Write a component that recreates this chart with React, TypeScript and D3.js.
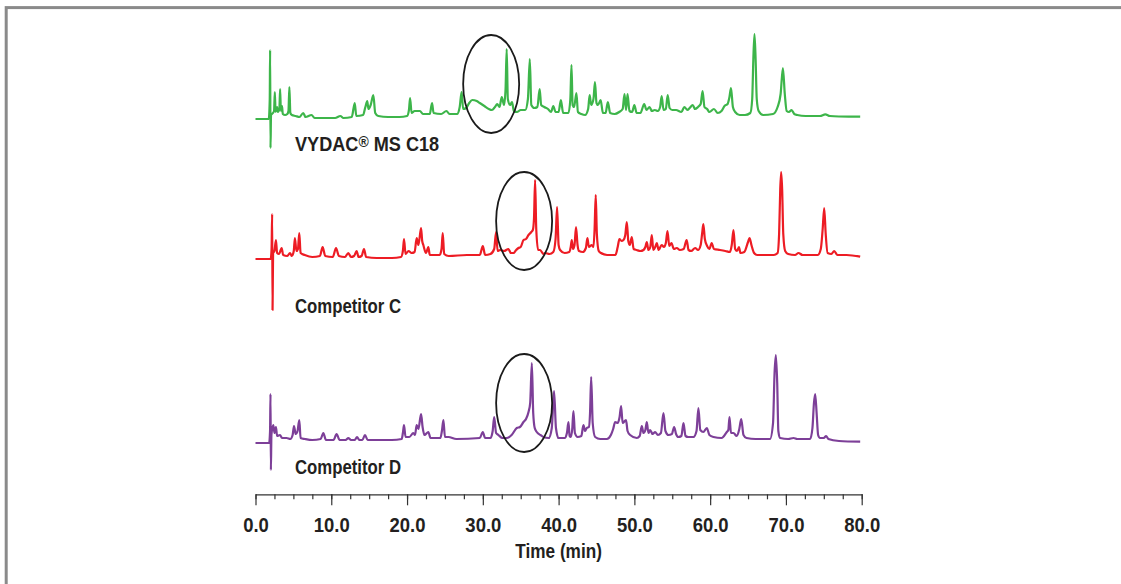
import React, { useEffect, useRef } from "react";
import * as d3 from "d3";

// Time axis (min)
const timeDomain: [number, number] = [0, 80];
const majorTicks = [0, 10, 20, 30, 40, 50, 60, 70, 80];
const minorTicks = d3.range(0, 80.01, 2.5);
const xAxisTitle = "Time (min)";

// Series names
const seriesNames = ["VYDAC", "Competitor C", "Competitor D"];
const seriesSuffix = [" MS C18", "", ""];
const seriesColors = ["#3db54a", "#ed1c24", "#7d3f98"];

// Chromatogram traces: [time (min), detector signal (arbitrary units)]
const vydacTrace: [number, number][] = [
  [0, 0], [1.75, 0], [1.88, 20], [1.93, 69], [1.98, -29], [2.05, 4], [2.3, 6], [2.45, 8], [2.55, 27], [2.65, 7],
  [2.85, 12], [2.95, 7], [3.15, 10], [3.25, 30], [3.35, 8], [3.5, 13], [3.6, 5], [3.9, 4], [4.2, 5], [4.35, 8],
  [4.47, 32], [4.6, 6], [4.8, 4], [5.3, 3], [5.8, 2], [6.3, 6], [6.6, 2], [7.4, 4], [7.8, 1], [9, 1], [10.5, 1],
  [11.2, 3], [11.6, 1], [12.7, 2], [13.1, 16], [13.3, 3], [14.2, 4], [14.5, 12], [14.75, 18], [14.9, 10], [15.2, 14],
  [15.55, 24], [15.8, 6], [16.2, 3], [17.5, 2], [19, 2], [20.0, 3], [20.25, 9], [20.4, 21], [20.6, 6], [21.0, 8],
  [21.7, 8], [22.1, 5], [23.0, 5], [23.3, 16], [23.5, 6], [24.5, 5], [25.2, 8], [25.6, 5], [26.6, 5], [26.95, 12],
  [27.2, 27], [27.4, 10], [27.8, 11], [28.2, 16], [28.6, 19], [29.2, 18], [29.6, 16], [30.2, 13], [30.8, 10],
  [31.2, 9], [31.6, 12], [31.9, 15], [32.2, 12], [32.5, 22], [32.8, 14], [33.0, 30], [33.15, 70], [33.3, 20],
  [33.6, 14], [33.85, 17], [34.1, 8], [34.5, 7], [35.0, 9], [35.6, 9], [35.95, 20], [36.2, 60], [36.4, 14],
  [36.8, 11], [37.2, 12], [37.5, 30], [37.7, 14], [38.1, 12], [38.6, 10], [39.0, 7], [39.3, 13], [39.6, 7],
  [40.0, 7], [40.3, 19], [40.6, 6], [41.3, 6], [41.55, 20], [41.7, 54], [41.85, 14], [42.05, 12], [42.35, 26],
  [42.55, 7], [43.0, 5], [43.5, 4], [43.9, 10], [44.1, 24], [44.3, 14], [44.6, 20], [44.8, 37], [45.0, 16],
  [45.2, 14], [45.55, 19], [45.85, 6], [46.2, 6], [46.5, 17], [46.8, 6], [47.4, 5], [48.0, 7], [48.45, 10],
  [48.7, 25], [48.9, 9], [49.1, 25], [49.35, 8], [49.7, 7], [50.0, 14], [50.3, 6], [50.8, 6], [51.3, 15],
  [51.6, 9], [52.0, 12], [52.3, 8], [52.7, 9], [53.1, 8], [53.4, 12], [53.6, 23], [53.85, 9], [54.15, 10],
  [54.4, 24], [54.65, 11], [55.0, 9], [55.5, 9], [56.2, 7], [56.6, 12], [57.0, 9], [57.3, 11], [57.7, 14],
  [58.0, 10], [58.4, 12], [58.75, 15], [59.0, 28], [59.25, 12], [59.6, 10], [59.9, 7], [60.5, 10], [61.0, 6],
  [61.5, 8], [61.9, 13], [62.3, 15], [62.55, 22], [62.75, 31], [63.0, 12], [63.3, 7], [63.9, 4], [64.6, 4],
  [65.3, 6], [65.55, 20], [65.7, 60], [65.85, 85], [66.0, 60], [66.15, 20], [66.4, 8], [67.0, 4], [68.3, 5],
  [68.9, 12], [69.3, 25], [69.6, 51], [69.85, 25], [70.1, 8], [70.4, 7], [70.75, 9], [71.1, 5], [71.5, 4],
  [72.6, 3], [74.5, 3], [75.2, 4.7], [75.8, 3], [77, 2.5], [79.8, 2.3],
];

const competitorCTrace: [number, number][] = [
  [0, 0], [2.0, 0], [2.12, 10], [2.2, 45], [2.25, -51], [2.32, 6], [2.5, 8], [2.7, 19], [2.85, 6], [3.1, 5],
  [3.45, 11], [3.65, 4], [4.2, 3], [4.55, 6], [4.8, 3], [5.05, 8], [5.2, 21], [5.4, 8], [5.6, 10], [5.78, 26],
  [5.95, 6], [6.5, 4], [7.5, 2], [8.5, 3], [8.86, 12], [9.2, 3], [10.2, 2], [10.63, 11], [11.0, 3], [11.8, 2],
  [12.25, 6], [12.6, 2], [13.0, 3], [13.35, 8], [13.6, 2], [14.0, 3], [14.32, 10], [14.6, 2], [16, 1], [18, 1],
  [19.2, 2], [19.45, 8], [19.6, 20], [19.8, 5], [20.2, 8], [20.6, 6], [21.0, 7], [21.27, 21], [21.5, 14],
  [21.85, 31], [22.0, 18], [22.15, 14], [22.5, 6], [22.81, 12], [23.0, 4], [24.3, 4], [24.55, 10], [24.71, 26],
  [24.9, 5], [25.5, 3], [27.9, 4], [29.6, 4], [30.0, 13], [30.3, 4], [31.0, 5], [31.5, 10], [31.75, 27],
  [31.95, 8], [32.28, 9], [32.8, 8], [33.38, 10], [33.7, 6], [34.04, 6], [34.4, 9], [34.7, 11], [35.0, 12],
  [35.37, 19], [35.7, 20], [36.03, 24], [36.4, 27], [36.6, 29], [36.75, 40], [36.9, 79], [37.05, 30], [37.3, 9],
  [37.56, 9], [38.0, 5], [38.22, 6], [38.8, 5], [39.3, 7], [39.6, 20], [39.8, 52], [40.0, 14], [40.2, 9],
  [40.8, 6], [41.4, 7], [41.6, 12], [41.74, 19], [41.9, 10], [42.1, 14], [42.3, 32], [42.5, 14], [42.7, 8],
  [43.2, 7], [43.6, 11], [43.8, 21], [44.0, 12], [44.37, 14], [44.6, 12], [44.75, 30], [44.9, 64], [45.05, 25],
  [45.3, 8], [45.6, 6], [46.4, 4], [47.5, 4], [47.8, 12], [48.03, 20], [48.3, 18], [48.56, 19], [48.8, 24],
  [49.0, 37], [49.2, 18], [49.4, 14], [49.66, 22], [49.9, 10], [50.3, 9], [50.8, 8], [51.2, 9], [51.45, 12],
  [51.64, 17], [51.85, 9], [52.1, 12], [52.3, 24], [52.5, 9], [52.75, 12], [52.96, 16], [53.2, 9], [53.6, 14],
  [53.9, 12], [54.15, 16], [54.37, 28], [54.6, 13], [54.9, 16], [55.2, 10], [55.6, 11], [56.0, 9], [56.5, 10],
  [56.9, 19], [57.15, 9], [57.5, 8], [58.02, 11], [58.4, 9], [58.75, 14], [58.95, 26], [59.1, 35], [59.3, 20],
  [59.6, 13], [59.9, 10], [60.2, 16], [60.5, 10], [61.3, 9], [62.0, 8], [62.6, 7], [62.85, 14], [63.08, 29],
  [63.3, 10], [63.55, 8], [63.8, 12], [64.0, 6], [64.5, 7], [65.0, 17], [65.2, 21], [65.45, 14], [65.8, 6],
  [66.2, 4], [68.4, 4], [68.9, 6], [69.1, 25], [69.25, 70], [69.37, 87], [69.5, 70], [69.65, 25], [69.9, 8],
  [70.3, 5], [71.2, 4], [71.66, 6], [72.2, 4], [74.2, 4], [74.6, 10], [74.85, 30], [75.05, 51], [75.25, 25],
  [75.5, 6], [76.0, 5], [76.37, 8], [76.8, 4], [78.0, 4], [79.8, 2.3],
];

const competitorDTrace: [number, number][] = [
  [0, 0], [1.8, 0], [1.92, 12], [1.98, 49], [2.03, -27], [2.1, 8], [2.35, 18], [2.5, 10], [2.7, 16], [2.85, 7],
  [3.23, 8], [3.5, 5], [4.1, 5], [4.6, 4], [4.9, 8], [5.08, 17], [5.3, 9], [5.55, 12], [5.78, 23], [5.95, 5],
  [6.53, 4], [7.5, 3], [8.6, 4], [8.95, 10], [9.3, 3], [10.3, 3], [10.7, 9], [11.1, 3], [11.9, 3], [12.25, 5],
  [12.6, 3], [13.1, 3], [13.4, 6], [13.7, 3], [14.1, 3], [14.45, 8], [14.8, 3], [16, 3], [18, 3], [19.3, 4],
  [19.45, 10], [19.6, 18], [19.8, 6], [20.3, 6], [20.83, 10], [21.05, 8], [21.27, 18], [21.5, 14], [21.85, 29],
  [22.05, 16], [22.3, 8], [22.81, 11], [23.1, 5], [24.4, 5], [24.6, 12], [24.8, 23], [25.0, 6], [25.46, 6],
  [26.5, 4], [29.6, 5], [30.0, 11], [30.3, 5], [31.0, 5], [31.3, 12], [31.5, 26], [31.75, 10], [32.06, 8],
  [32.6, 5], [33.16, 5], [33.8, 8], [34.48, 15], [34.9, 16], [35.37, 21], [35.7, 24], [36.03, 31], [36.25, 40],
  [36.47, 80], [36.65, 30], [36.85, 15], [37.12, 11], [37.6, 8], [38.0, 6], [38.7, 5], [39.1, 15], [39.4, 52],
  [39.65, 15], [39.98, 5], [40.8, 5], [41.1, 10], [41.3, 21], [41.45, 7], [41.6, 6], [41.8, 14], [41.96, 32],
  [42.15, 10], [42.5, 6], [43.0, 7], [43.28, 18], [43.5, 12], [43.72, 15], [44.0, 16], [44.15, 30], [44.3, 66],
  [44.5, 20], [44.82, 6], [45.5, 4], [46.36, 4], [46.9, 8], [47.2, 14], [47.46, 21], [47.8, 20], [48.05, 26],
  [48.25, 37], [48.45, 20], [48.9, 23], [49.1, 12], [49.44, 8], [50.32, 5], [50.7, 7], [50.98, 17], [51.2, 10],
  [51.45, 13], [51.64, 21], [51.85, 10], [52.08, 13], [52.4, 9], [52.74, 11], [53.1, 8], [53.5, 10], [53.84, 30],
  [54.1, 12], [54.5, 8], [54.95, 9], [55.25, 16], [55.5, 9], [55.8, 6], [56.2, 7], [56.48, 20], [56.75, 7],
  [57.1, 6], [57.8, 6], [58.2, 12], [58.45, 35], [58.7, 13], [59.1, 11], [59.56, 15], [59.9, 8], [60.44, 6],
  [61.5, 5], [62.2, 11], [62.4, 13], [62.55, 26], [62.75, 10], [63.08, 10], [63.5, 7], [63.85, 14], [64.1, 24],
  [64.4, 8], [64.8, 5], [66, 4], [67.9, 4], [68.3, 20], [68.5, 70], [68.67, 88], [68.85, 60], [69.0, 12],
  [69.24, 5], [70.3, 4], [71.0, 5], [71.5, 4], [73.2, 4], [73.5, 15], [73.7, 40], [73.86, 49], [74.05, 30],
  [74.25, 8], [74.5, 5], [75.0, 5], [75.3, 7], [75.6, 4], [77, 2], [79.8, 1.3],
];

// Highlighted regions (ellipse centres): [series index, time (min), signal]
const highlights: [number, number, number][] = [
  [0, 31.1, 35],
  [1, 35.45, 38],
  [2, 35.45, 40],
];

const traces = [vydacTrace, competitorCTrace, competitorDTrace];

const W = 1121;
const H = 584;
const FONT = "'Liberation Sans', Arial, Helvetica, sans-serif";
const SQUEEZE = 0.86;

export default function App() {
  const ref = useRef<SVGSVGElement | null>(null);

  useEffect(() => {
    const svg = d3.select(ref.current);
    svg.selectAll("*").remove();

    // frame
    svg.append("rect")
      .attr("x", 6.2).attr("y", 7.6).attr("width", 1300).attr("height", 800)
      .attr("fill", "none").attr("stroke", "#8a8a8a").attr("stroke-width", 3);

    const x = d3.scaleLinear().domain(timeDomain).range([255.5, 861.7]);
    const baselines = [119, 259, 443];
    const axisY = 494.3;
    const labelY = [151, 312.5, 474];
    const labelScale = [0.93, SQUEEZE, SQUEEZE];

    traces.forEach((tr, i) => {
      const y = d3.scaleLinear().domain([0, 100]).range([baselines[i], baselines[i] - 100]);
      const line = d3.line<[number, number]>()
        .x((d) => x(d[0]))
        .y((d) => y(d[1]))
        .curve(d3.curveMonotoneX);
      svg.append("path")
        .datum(tr)
        .attr("d", line)
        .attr("fill", "none")
        .attr("stroke", seriesColors[i])
        .attr("stroke-width", 2.2)
        .attr("stroke-linejoin", "round");

      const t = svg.append("text")
        .attr("transform", `translate(${x(0) + 39.5},${labelY[i]}) scale(${labelScale[i]},1)`)
        .attr("font-family", FONT)
        .attr("font-weight", "bold")
        .attr("font-size", 19.5)
        .attr("fill", "#231f20");
      t.append("tspan").text(seriesNames[i]);
      if (i === 0) {
        t.append("tspan").attr("font-size", 15).attr("dy", -4).text("®");
        t.append("tspan").attr("dy", 4).text(seriesSuffix[i]);
      }
    });

    highlights.forEach(([si, t, v]) => {
      const y = d3.scaleLinear().domain([0, 100]).range([baselines[si], baselines[si] - 100]);
      svg.append("ellipse")
        .attr("cx", x(t)).attr("cy", y(v))
        .attr("rx", 28).attr("ry", 49)
        .attr("fill", "none").attr("stroke", "#1a1a1a").attr("stroke-width", 1.8);
    });

    // axis
    const g = svg.append("g").attr("transform", `translate(0,${axisY})`);
    g.append("g")
      .call(d3.axisBottom(x).tickValues(minorTicks).tickSize(5).tickSizeOuter(0).tickFormat(() => ""))
      .call((s) => s.select(".domain").remove())
      .selectAll("line").attr("stroke", "#333").attr("stroke-width", 1.2);
    const major = g.append("g")
      .call(d3.axisBottom(x).tickValues(majorTicks).tickSize(11).tickSizeOuter(0).tickPadding(12).tickFormat(d3.format(".1f")));
    major.select(".domain").attr("stroke", "#333").attr("stroke-width", 1.2);
    major.selectAll("line").attr("stroke", "#333").attr("stroke-width", 1.2);
    major.selectAll(".tick text")
      .attr("font-family", FONT)
      .attr("font-weight", "bold")
      .attr("font-size", 21)
      .attr("fill", "#231f20")
      .attr("transform", "scale(0.88,1)");

    svg.append("text")
      .attr("transform", `translate(${(x(0) + x(80)) / 2},558) scale(${SQUEEZE},1)`)
      .attr("text-anchor", "middle")
      .attr("font-family", FONT)
      .attr("font-weight", "bold")
      .attr("font-size", 20)
      .attr("fill", "#231f20")
      .text(xAxisTitle);
  }, []);

  return (
    <svg
      ref={ref}
      width={W}
      height={H}
      style={{ position: "absolute", left: 0, top: 0, display: "block", background: "#fff" }}
    />
  );
}
